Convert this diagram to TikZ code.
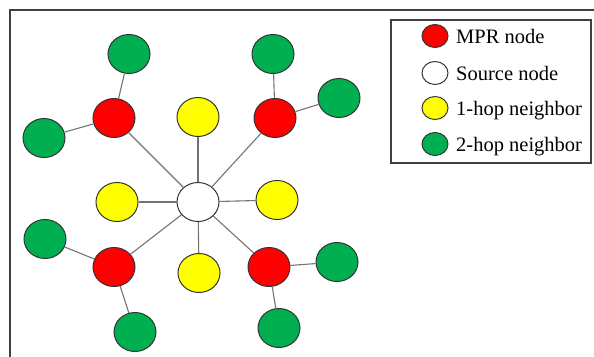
\documentclass[tikz,border=0pt]{standalone}
\usepackage{fontspec}
\setmainfont{LiberationSerif}[Extension=.ttf, UprightFont=*-Regular]
\usetikzlibrary{shapes.geometric,fit}
\definecolor{mprred}{RGB}{255,0,0}
\definecolor{hopyellow}{RGB}{255,255,0}
\definecolor{hopgreen}{RGB}{0,176,80}
\begin{document}
\begin{tikzpicture}[x=1pt, y=-1pt,
		peer/.style={ellipse, draw=black!80, line width=1pt, minimum width=42pt, minimum height=39pt, inner sep=0pt},
		key/.style={ellipse, draw=black!80, line width=1pt, minimum width=26pt, minimum height=23pt, inner sep=0pt},
		link/.style={draw=black!55, line width=1.1pt},
		keytext/.style={anchor=base west, inner sep=0pt, font=\rmfamily\fontsize{20.5}{24}\selectfont}]
		\useasboundingbox (0,0) rectangle (594,356);
		\draw[black!75, line width=2pt] (10,357) -- (10,10) -- (595,10);
		\node[peer, fill=white] (src) at (198,202) {};
		\node[peer, fill=hopyellow] (yt) at (198,117) {};
		\node[peer, fill=hopyellow] (yl) at (117,202) {};
		\node[peer, fill=hopyellow] (yr) at (277,200) {};
		\node[peer, fill=hopyellow] (yb) at (199,273) {};
		\node[peer, fill=mprred] (rtl) at (114,118) {};
		\node[peer, fill=mprred] (rtr) at (275,118) {};
		\node[peer, fill=mprred] (rbl) at (114,267) {};
		\node[peer, fill=mprred] (rbr) at (269,267) {};
		\node[peer, fill=hopgreen] (gtla) at (129,54) {};
		\node[peer, fill=hopgreen] (gtlb) at (44,138) {};
		\node[peer, fill=hopgreen] (gtra) at (273,54) {};
		\node[peer, fill=hopgreen] (gtrb) at (339,98) {};
		\node[peer, fill=hopgreen] (gbla) at (45,239) {};
		\node[peer, fill=hopgreen] (gblb) at (135,332) {};
		\node[peer, fill=hopgreen] (gbra) at (337,262) {};
		\node[peer, fill=hopgreen] (gbrb) at (279,328) {};
		\foreach \n in {yt,yl,yr,yb,rtl,rtr,rbl,rbr}
			\draw[link] (src) -- (\n);
		\draw[link] (rtl) -- (gtla);
		\draw[link] (rtl) -- (gtlb);
		\draw[link] (rtr) -- (gtra);
		\draw[link] (rtr) -- (gtrb);
		\draw[link] (rbl) -- (gbla);
		\draw[link] (rbl) -- (gblb);
		\draw[link] (rbr) -- (gbra);
		\draw[link] (rbr) -- (gbrb);
		\node[draw=black!75, line width=1.2pt, inner sep=0pt, fit={(391,20) (591,163)}] (legend) {};
		\node[key, fill=mprred] (kmpr) at (435,36) {};
		\node[key, fill=white] (ksrc) at (435,73) {};
		\node[key, fill=hopyellow] (kone) at (435,108) {};
		\node[key, fill=hopgreen] (ktwo) at (435,144) {};
		\node[keytext] (tmpr) at (456,43) {MPR node};
		\node[keytext] (tsrc) at (456,80) {Source node};
		\node[keytext] (tone) at (456,115) {1-hop neighbor};
		\node[keytext] (ttwo) at (456,151) {2-hop neighbor};
\end{tikzpicture}
\end{document}
